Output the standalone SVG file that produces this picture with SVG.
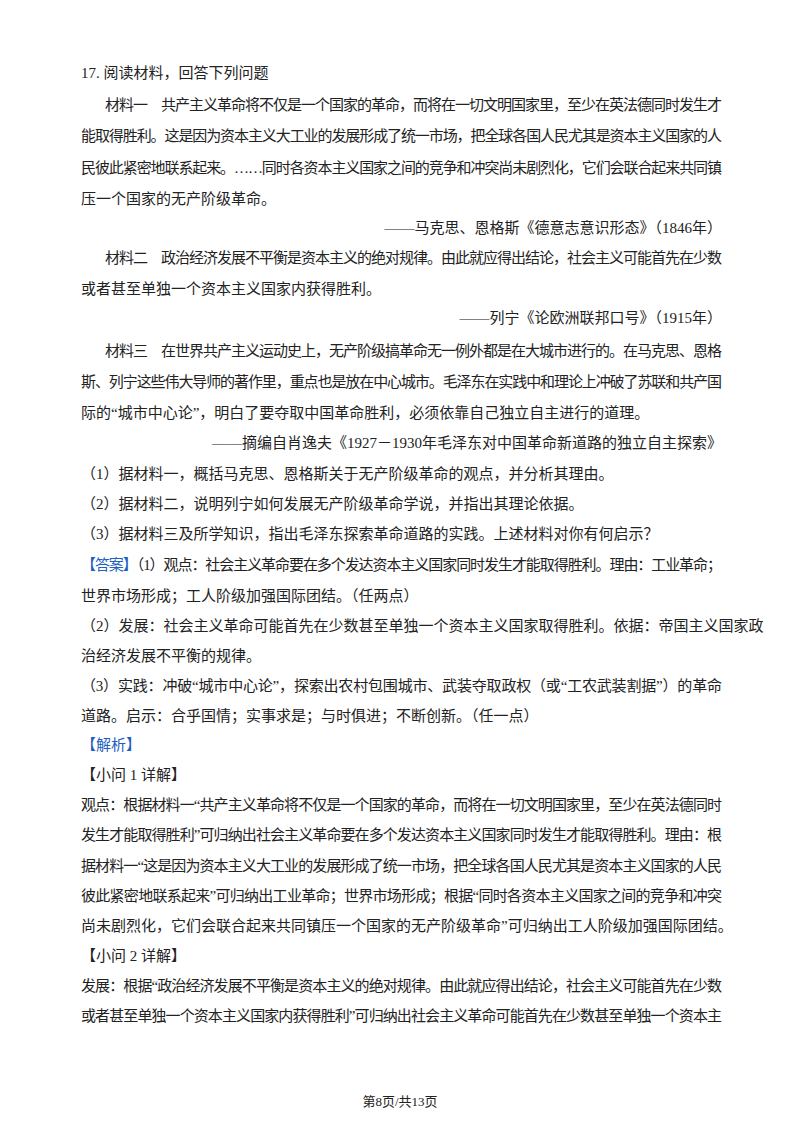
<svg xmlns="http://www.w3.org/2000/svg" width="800" height="1132" viewBox="0 0 800 1132">
<style>
text{font-family:"Liberation Serif","Noto Sans CJK SC",serif;font-size:15px;fill:#222}
.b{fill:#2060c0}
.f{font-size:13px}
</style>
<rect width="800" height="1132" fill="#fff"/>
<g id="material">
<text x="81" y="78">17. 阅读材料，回答下列问题</text>
<text x="105" y="110" textLength="617" lengthAdjust="spacing">材料一　共产主义革命将不仅是一个国家的革命，而将在一切文明国家里，至少在英法德同时发生才</text>
<text x="81" y="141" textLength="641" lengthAdjust="spacing">能取得胜利。这是因为资本主义大工业的发展形成了统一市场，把全球各国人民尤其是资本主义国家的人</text>
<text x="81" y="173" textLength="641" lengthAdjust="spacing">民彼此紧密地联系起来。……同时各资本主义国家之间的竞争和冲突尚未剧烈化，它们会联合起来共同镇</text>
<text x="81" y="204">压一个国家的无产阶级革命。</text>
<text x="722" y="233" text-anchor="end">——马克思、恩格斯《德意志意识形态》（1846年）</text>
<text x="105" y="263" textLength="617" lengthAdjust="spacing">材料二　政治经济发展不平衡是资本主义的绝对规律。由此就应得出结论，社会主义可能首先在少数</text>
<text x="81" y="294">或者甚至单独一个资本主义国家内获得胜利。</text>
<text x="722" y="323" text-anchor="end">——列宁《论欧洲联邦口号》（1915年）</text>
<text x="105" y="356" textLength="617" lengthAdjust="spacing">材料三　在世界共产主义运动史上，无产阶级搞革命无一例外都是在大城市进行的。在马克思、恩格</text>
<text x="81" y="387" textLength="641" lengthAdjust="spacing">斯、列宁这些伟大导师的著作里，重点也是放在中心城市。毛泽东在实践中和理论上冲破了苏联和共产国</text>
<text x="81" y="418">际的“城市中心论”，明白了要夺取中国革命胜利，必须依靠自己独立自主进行的道理。</text>
<text x="722" y="448" text-anchor="end">——摘编自肖逸夫《1927－1930年毛泽东对中国革命新道路的独立自主探索》</text>
<text x="81" y="479">（1）据材料一，概括马克思、恩格斯关于无产阶级革命的观点，并分析其理由。</text>
<text x="81" y="501" dy="8">（2）据材料二，说明列宁如何发展无产阶级革命学说，并指出其理论依据。</text>
<text x="81" y="539">（3）据材料三及所学知识，指出毛泽东探索革命道路的实践。上述材料对你有何启示？</text>
</g>
<g id="answer">
<text x="81" y="570" textLength="641" lengthAdjust="spacing"><tspan class="b">【答案】</tspan>（1）观点：社会主义革命要在多个发达资本主义国家同时发生才能取得胜利。理由：工业革命；</text>
<text x="81" y="601">世界市场形成；工人阶级加强国际团结。（任两点）</text>
<text x="81" y="631">（2）发展：社会主义革命可能首先在少数甚至单独一个资本主义国家取得胜利。依据：帝国主义国家政</text>
<text x="81" y="661">治经济发展不平衡的规律。</text>
<text x="81" y="691" textLength="641" lengthAdjust="spacing">（3）实践：冲破“城市中心论”，探索出农村包围城市、武装夺取政权（或“工农武装割据”）的革命</text>
<text x="81" y="721">道路。启示：合乎国情；实事求是；与时俱进；不断创新。（任一点）</text>
<text x="81" y="750" class="b">【解析】</text>
<text x="81" y="780">【小问 1 详解】</text>
<text x="81" y="810" textLength="641" lengthAdjust="spacing">观点：根据材料一“共产主义革命将不仅是一个国家的革命，而将在一切文明国家里，至少在英法德同时</text>
<text x="81" y="840" textLength="641" lengthAdjust="spacing">发生才能取得胜利”可归纳出社会主义革命要在多个发达资本主义国家同时发生才能取得胜利。理由：根</text>
<text x="81" y="871" textLength="641" lengthAdjust="spacing">据材料一“这是因为资本主义大工业的发展形成了统一市场，把全球各国人民尤其是资本主义国家的人民</text>
<text x="81" y="901" textLength="641" lengthAdjust="spacing">彼此紧密地联系起来”可归纳出工业革命；世界市场形成；根据“同时各资本主义国家之间的竞争和冲突</text>
<text x="81" y="931">尚未剧烈化，它们会联合起来共同镇压一个国家的无产阶级革命”可归纳出工人阶级加强国际团结。</text>
<text x="81" y="961">【小问 2 详解】</text>
<text x="81" y="991" textLength="641" lengthAdjust="spacing">发展：根据“政治经济发展不平衡是资本主义的绝对规律。由此就应得出结论，社会主义可能首先在少数</text>
<text x="81" y="1021" textLength="641" lengthAdjust="spacing">或者甚至单独一个资本主义国家内获得胜利”可归纳出社会主义革命可能首先在少数甚至单独一个资本主</text>
</g>
<text x="400" y="1106" text-anchor="middle" class="f">第8页/共13页</text>
</svg>
